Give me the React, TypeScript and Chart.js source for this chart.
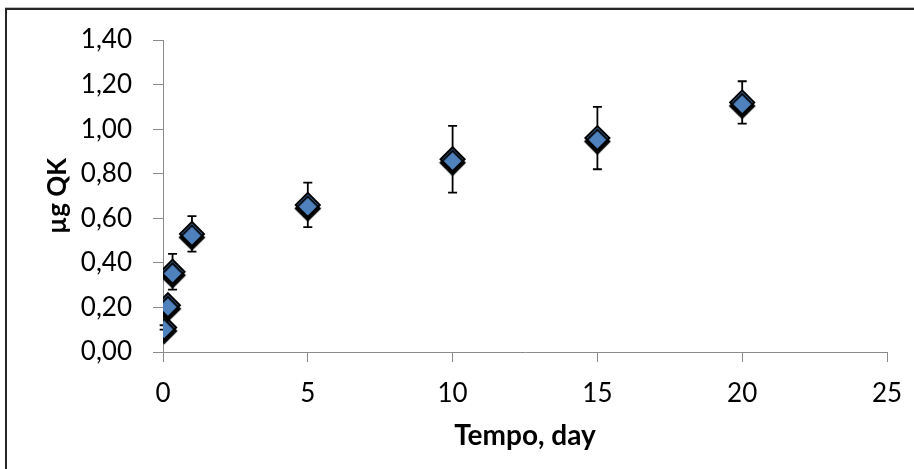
import { useEffect, useRef } from "react";
import { Chart, registerables } from "chart.js";

Chart.register(...registerables);

const xValues = [0.04, 0.17, 0.33, 1, 5, 10, 15, 20];
const yValues = [0.11, 0.21, 0.36, 0.53, 0.66, 0.865, 0.96, 1.12];
const yErrors = [0.01, 0.02, 0.08, 0.08, 0.1, 0.15, 0.14, 0.095];
const xTitle = "Tempo, day";
const yTitle = "µg QK";

const FONT = "Lato";

const frameAndErrors = {
  id: "frameAndErrors",
  beforeDraw(chart: any) {
    const ctx = chart.ctx;
    ctx.save();
    ctx.fillStyle = "#ffffff";
    ctx.fillRect(0, 0, chart.width, chart.height);
    ctx.fillStyle = "#bdbdbd";
    ctx.fillRect(5, 7, chart.width - 5, 1);
    ctx.fillStyle = "#262626";
    ctx.fillRect(6, 8, chart.width - 6, 2);
    ctx.fillRect(5, 8, 2, chart.height - 8);
    ctx.restore();
  },
  beforeDatasetsDraw(chart: any) {
    const ctx = chart.ctx;
    const xs = chart.scales.x;
    const ys = chart.scales.y;
    ctx.save();
    ctx.strokeStyle = "#000000";
    ctx.lineWidth = 1.8;
    xValues.forEach((xv, i) => {
      const px = xs.getPixelForValue(xv);
      const top = ys.getPixelForValue(yValues[i] + yErrors[i]);
      const bot = ys.getPixelForValue(yValues[i] - yErrors[i]);
      ctx.beginPath();
      ctx.moveTo(px, top);
      ctx.lineTo(px, bot);
      ctx.moveTo(px - 4.5, top);
      ctx.lineTo(px + 4.5, top);
      ctx.moveTo(px - 4.5, bot);
      ctx.lineTo(px + 4.5, bot);
      ctx.stroke();
    });
    ctx.shadowColor = "rgba(0,0,0,1)";
    ctx.shadowOffsetX = 0;
    ctx.shadowOffsetY = 3.5;
    ctx.shadowBlur = 1;
  },
  afterDatasetsDraw(chart: any) {
    chart.ctx.restore();
  },
};

export default function App() {
  const ref = useRef<HTMLCanvasElement>(null);
  useEffect(() => {
    if (!ref.current) return;
    const chart = new Chart(ref.current, {
      type: "scatter",
      data: {
        datasets: [
          {
            data: xValues.map((x, i) => ({ x, y: yValues[i] })),
            pointStyle: "rectRot",
            pointRadius: 12,
            pointHoverRadius: 12,
            backgroundColor: "#4F81BD",
            borderColor: "#000000",
            borderWidth: 2,
          },
        ],
      },
      plugins: [frameAndErrors],
      options: {
        animation: false,
        responsive: false,
        devicePixelRatio: 1,
        layout: { padding: { top: 40, right: 27, left: 0, bottom: 0 } },
        plugins: {
          legend: { display: false },
          tooltip: { enabled: false },
        },
        scales: {
          x: {
            type: "linear",
            min: 0,
            max: 25,
            afterFit: (s: any) => {
              s.height = 117;
              s.paddingLeft = 0;
              s.paddingRight = 0;
            },
            ticks: {
              stepSize: 5,
              padding: 16,
              color: "#000000",
              font: { family: FONT, size: 26 },
            },
            grid: {
              drawOnChartArea: false,
              drawTicks: true,
              tickLength: 10,
              color: "#8a8a8a",
            },
            border: { color: "#8a8a8a", width: 1 },
            title: {
              display: true,
              text: xTitle,
              color: "#000000",
              font: { family: FONT, size: 28, weight: "bold" },
              padding: { top: 0, bottom: 16 },
            },
          },
          y: {
            type: "linear",
            min: 0,
            max: 1.4,
            afterFit: (s: any) => {
              s.width = 163;
              s.paddingTop = 0;
              s.paddingBottom = 0;
            },
            ticks: {
              stepSize: 0.2,
              padding: 21,
              color: "#000000",
              font: { family: FONT, size: 26 },
              callback: (v: any) => Number(v).toFixed(2).replace(".", ","),
            },
            grid: {
              drawOnChartArea: false,
              drawTicks: true,
              tickLength: 10,
              color: "#8a8a8a",
            },
            border: { color: "#8a8a8a", width: 1 },
            title: {
              display: true,
              text: yTitle,
              color: "#000000",
              font: { family: FONT, size: 26, weight: "bold" },
              padding: { top: 42, bottom: 0 },
            },
          },
        },
      },
    });
    return () => chart.destroy();
  }, []);
  return (
    <div
      style={{
        position: "fixed",
        left: 0,
        top: 0,
        width: 914,
        height: 469,
        background: "#ffffff",
      }}
    >
      <canvas ref={ref} width={914} height={469} style={{ display: "block" }} />
    </div>
  );
}
